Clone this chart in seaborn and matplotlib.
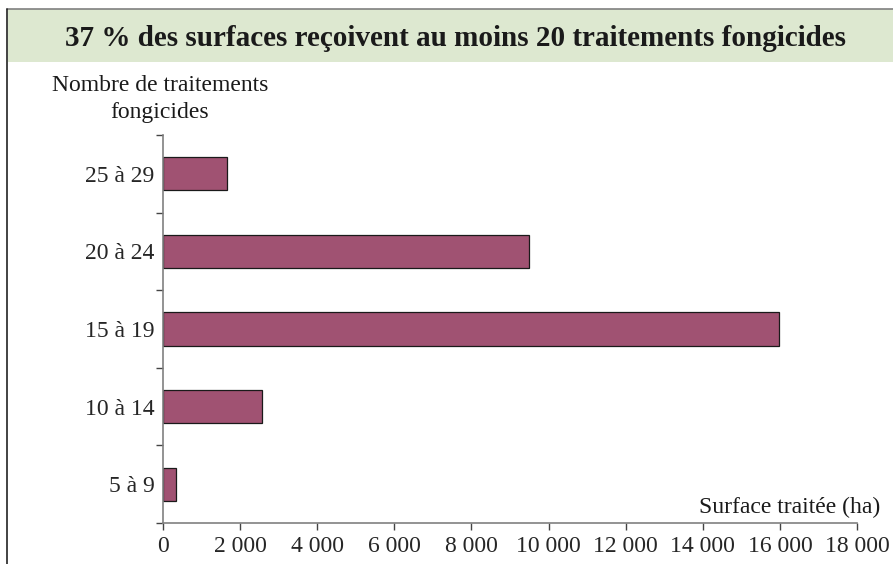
import numpy as np
import pandas as pd
import matplotlib
matplotlib.use("Agg")
import matplotlib.pyplot as plt
import seaborn as sns
from matplotlib.ticker import FixedLocator, FuncFormatter
from matplotlib.patches import Rectangle
from matplotlib.lines import Line2D

# données
classes = ["25 à 29", "20 à 24", "15 à 19", "10 à 14", "5 à 9"]
surfaces = [1660, 9490, 15980, 2570, 340]
x_ticks = [0, 2000, 4000, 6000, 8000, 10000, 12000, 14000, 16000, 18000]

titre = "37 % des surfaces reçoivent au moins 20 traitements fongicides"
label_y = "Nombre de traitements\nfongicides"
label_x = "Surface traitée (ha)"

sns.set_style("white")
plt.rcParams['font.family'] = ['Liberation Serif', 'DejaVu Serif']

df = pd.DataFrame({"classe": classes, "surface": surfaces})

fig = plt.figure(figsize=(8.93, 5.64), dpi=100)

# bandeau du titre
fig.patches.append(Rectangle((8 / 893, 1 - 62 / 564), 1, 53 / 564,
                             transform=fig.transFigure, facecolor="#dde8d0",
                             edgecolor="none", zorder=0))
fig.lines.append(Line2D([7 / 893, 1], [1 - 9 / 564] * 2, transform=fig.transFigure,
                        color="#808080", lw=1.2))
fig.lines.append(Line2D([7 / 893] * 2, [0, 1 - 9 / 564], transform=fig.transFigure,
                        color="#222222", lw=1.2))
fig.text(456 / 893, 1 - 38 / 564, titre, ha="center", va="center",
         fontsize=21, fontweight="bold", color="#1a1a1a")

ax = fig.add_axes([163 / 893, 1 - 523 / 564, 694 / 893, 388 / 564])
sns.barplot(data=df, x="surface", y="classe", order=classes, orient="h",
            color="#a05272", saturation=1, width=0.43,
            edgecolor="#1a1a1a", linewidth=0.9, ax=ax)

ax.set_xlim(0, 18000)
ax.set_ylim(len(classes) - 0.5, -0.5)
ax.xaxis.set_major_locator(FixedLocator(x_ticks))
ax.xaxis.set_major_formatter(FuncFormatter(lambda v, p: f"{int(v):,}".replace(",", " ")))

# graduations de l'axe des y entre les classes, libellés au centre
ax.yaxis.set_major_locator(FixedLocator(np.arange(-0.5, len(classes), 1.0)))
ax.yaxis.set_major_formatter(FuncFormatter(lambda v, p: ""))
ax.yaxis.set_minor_locator(FixedLocator(np.arange(len(classes))))
ax.set_yticklabels(classes, minor=True)
ax.tick_params(axis="y", which="minor", length=0, pad=6, labelsize=17)
ax.tick_params(axis="y", which="major", length=5, width=1, color="#444444",
               direction="out", left=True)
ax.tick_params(axis="x", length=5, width=1, color="#444444", direction="out",
               bottom=True, labelsize=17, pad=4)

for s in ["top", "right"]:
    ax.spines[s].set_visible(False)
for s in ["left", "bottom"]:
    ax.spines[s].set_color("#808080")
    ax.spines[s].set_linewidth(1.2)

ax.set_xlabel("")
ax.set_ylabel("")
fig.text(160 / 893, 1 - 99 / 564, label_y, ha="center", va="center",
         fontsize=17, linespacing=1.4, color="#1a1a1a")
fig.text(880 / 893, 1 - 507 / 564, label_x, ha="right", va="center",
         fontsize=17, color="#1a1a1a")

fig.savefig("out.png", dpi=100)
